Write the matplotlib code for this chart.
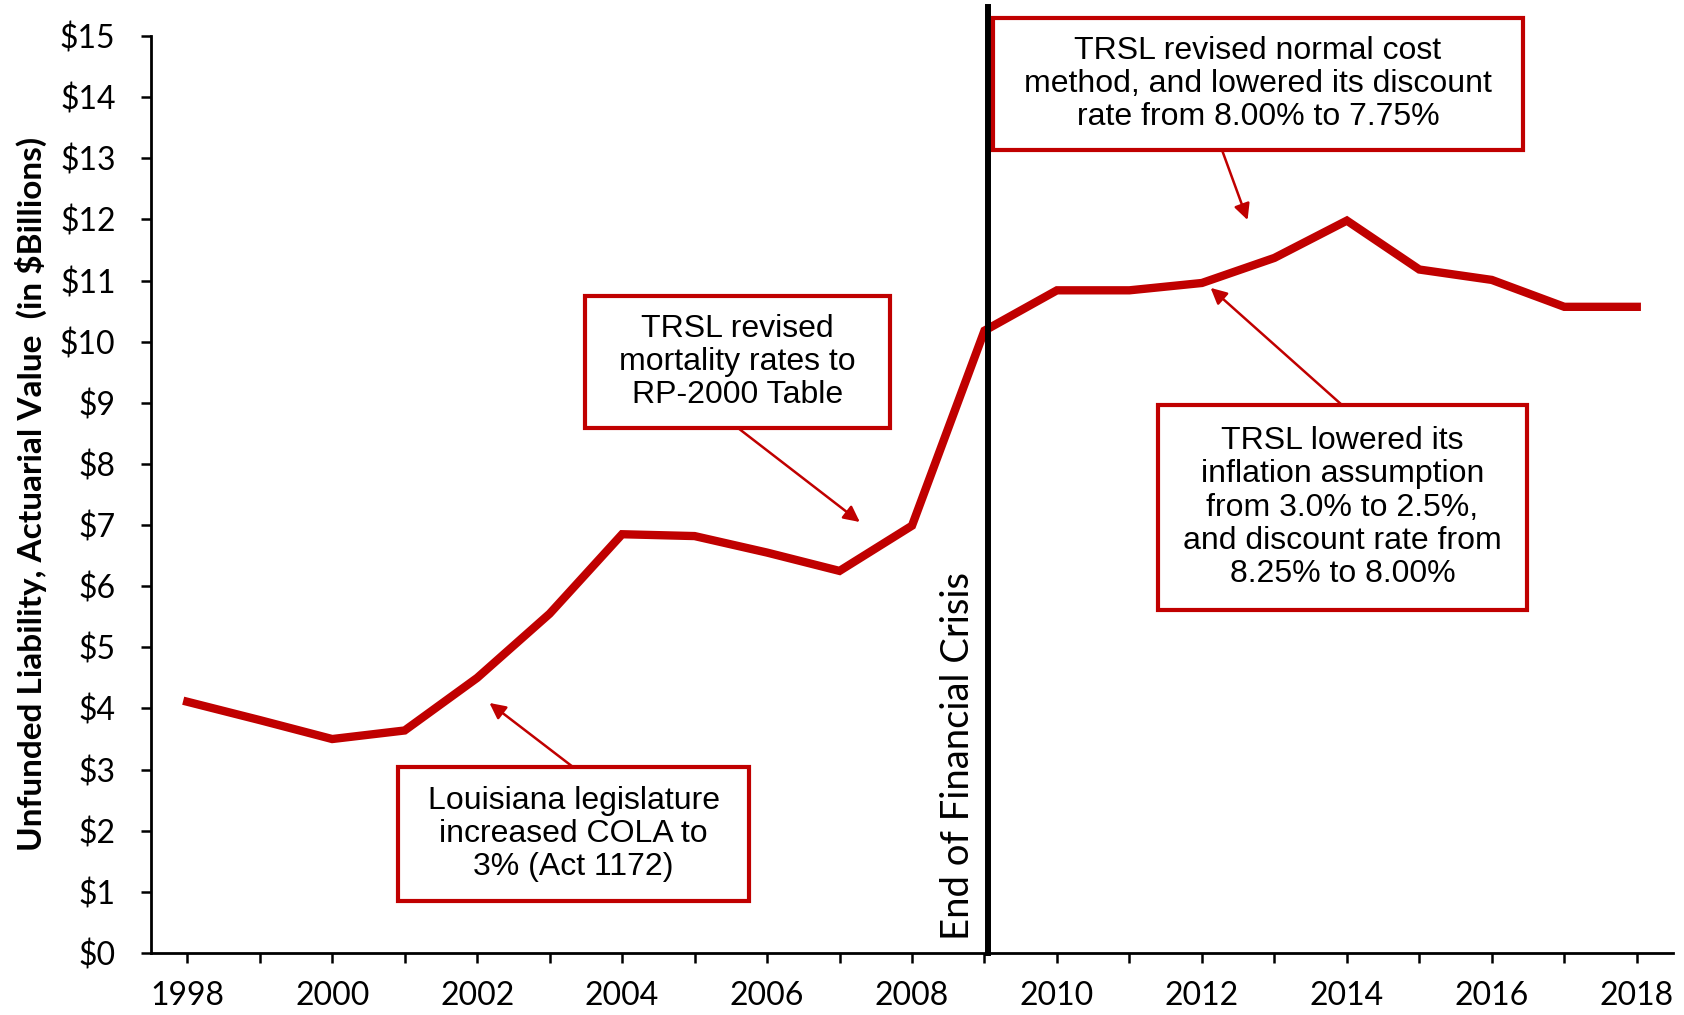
import matplotlib
matplotlib.use("Agg")
import matplotlib.pyplot as plt
from matplotlib.patches import Rectangle

# unfunded liability, actuarial value ($ billions)
years = list(range(1998, 2019))
liability = [4.11, 3.81, 3.50, 3.64, 4.50, 5.55, 6.85, 6.82, 6.55, 6.25,
             6.99, 10.18, 10.84, 10.84, 10.96, 11.37, 11.98, 11.18, 11.01, 10.57, 10.57]
tick_years = list(range(1998, 2019, 2))
y_ticks = list(range(0, 16))
y_tick_labels = [f"${v}" for v in y_ticks]

crisis_year = 2009.05
crisis_label = "End of Financial Crisis"
y_label = "Unfunded Liability, Actuarial Value  (in $Billions)"

notes = [
    "TRSL revised\nmortality rates to\nRP-2000 Table",
    "Louisiana legislature\nincreased COLA to\n3% (Act 1172)",
    "TRSL revised normal cost\nmethod, and lowered its discount\nrate from 8.00% to 7.75%",
    "TRSL lowered its\ninflation assumption\nfrom 3.0% to 2.5%,\nand discount rate from\n8.25% to 8.00%",
]
# where each arrow points, in data units
note_targets = [(2007.28, 7.05), (2002.17, 4.09), (2012.63, 11.99), (2012.12, 10.88)]
# box extents in pixels (x0, y0, x1, y1) and arrow tail in pixels
note_boxes = [(585, 296, 890, 428), (398, 767, 749, 901), (993, 18, 1523, 150), (1158, 405, 1527, 610)]
note_tails = [(738, 428), (573, 767), (1222, 150), (1342, 405)]

RED = "#C00000"
W, H = 1684, 1015


def fx(px):
    return px / W


def fy(py):
    return 1 - py / H


def main():
    fig = plt.figure(figsize=(W / 100, H / 100), dpi=100)
    ax = fig.add_axes([fx(151), fy(953), fx(1673) - fx(151), fy(36) - fy(953)])

    ax.plot(years, liability, color=RED, lw=6, solid_joinstyle="miter", zorder=3)
    ax.axvline(crisis_year, ymin=0, ymax=(953 - 7) / (953 - 36), color="black",
               lw=4.3, clip_on=False, zorder=4)

    ax.set_xlim(1997.5, 2018.5)
    ax.set_ylim(0, 15)
    ax.set_xticks(years)
    ax.set_xticklabels([str(y) if y in tick_years else "" for y in years])
    ax.set_yticks(y_ticks)
    ax.set_yticklabels(y_tick_labels)
    for side in ("top", "right"):
        ax.spines[side].set_visible(False)
    for side in ("left", "bottom"):
        ax.spines[side].set_linewidth(2)
    ax.tick_params(axis="both", direction="out", length=7.5, width=1.8,
                   labelsize=23, labelfontfamily="Lato")
    ax.tick_params(axis="y", pad=18)
    ax.tick_params(axis="x", pad=13)

    fig.text(fx(31), fy(494), y_label, rotation=90, ha="center", va="center",
             fontsize=24, fontweight="bold", family="Lato")
    fig.text(fx(958), fy(756), crisis_label, rotation=90, ha="center", va="center",
             fontsize=27.5, family="Lato")

    for text, target, box, tail in zip(notes, note_targets, note_boxes, note_tails):
        x0, y0, x1, y1 = box
        fig.add_artist(Rectangle((fx(x0), fy(y1)), fx(x1) - fx(x0), fy(y0) - fy(y1),
                                 transform=fig.transFigure, facecolor="white",
                                 edgecolor=RED, lw=3, zorder=2))
        fig.text(fx((x0 + x1) / 2), fy((y0 + y1) / 2), text, ha="center", va="center",
                 fontsize=23, family="Liberation Sans", linespacing=1.15, zorder=3)
        ax.annotate("", xy=target, xycoords="data",
                    xytext=(fx(tail[0]), fy(tail[1])), textcoords="figure fraction",
                    arrowprops=dict(arrowstyle="-|>", color=RED, lw=1.8,
                                    mutation_scale=24, shrinkA=0, shrinkB=0),
                    annotation_clip=False)

    fig.savefig("out.png", dpi=100)


if __name__ == "__main__":
    main()
